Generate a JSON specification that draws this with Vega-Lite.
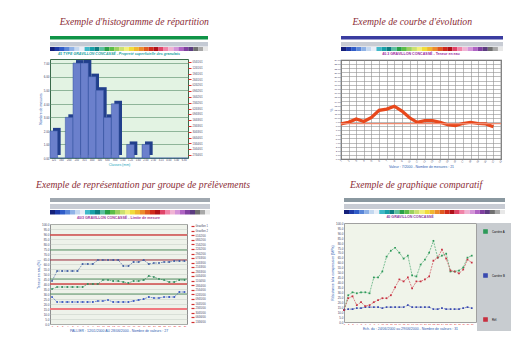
{
  "$schema": "https://vega.github.io/schema/vega-lite/v6.json",
  "background": "white",
  "padding": {"left": 35, "top": 17, "right": 0, "bottom": 0},
  "config": {
    "view": {"stroke": null},
    "axis": {"labelFont": "Liberation Sans", "labelFontSize": 3, "labelColor": "#404060", "titleFont": "Liberation Sans", "titleFontSize": 3.5, "titleColor": "#2a5ab0", "titleFontWeight": "normal", "ticks": false, "domain": false, "labelPadding": 1, "titlePadding": 1, "labelOverlap": false, "labelFlush": false},
    "legend": {"labelFont": "Liberation Sans"},
    "range": {"category": ["#15207a","#1e3aa8","#2f5cc8","#5a86d8","#8fb2e6","#c4d8f0","#e8eef8","#3fb8c8","#1aa0a8","#0c7c80","#5cc0a0","#28a048","#5cbc48","#9cd060","#cce070","#f2f07a","#f0dc3c","#f0b830","#ec8c2c","#e05a20","#d02a1c","#b01018","#e04468","#f084a8","#f0b4d4","#d494d8","#b064c4","#8040a0","#5c3c80","#707070","#a8a8a8","#e8e8e8"]}
  },
  "datasets": {
    "palette": [{"s":"c00"},{"s":"c01"},{"s":"c02"},{"s":"c03"},{"s":"c04"},{"s":"c05"},{"s":"c06"},{"s":"c07"},{"s":"c08"},{"s":"c09"},{"s":"c10"},{"s":"c11"},{"s":"c12"},{"s":"c13"},{"s":"c14"},{"s":"c15"},{"s":"c16"},{"s":"c17"},{"s":"c18"},{"s":"c19"},{"s":"c20"},{"s":"c21"},{"s":"c22"},{"s":"c23"},{"s":"c24"},{"s":"c25"},{"s":"c26"},{"s":"c27"},{"s":"c28"},{"s":"c29"},{"s":"c30"},{"s":"c31"}],
    "one": [{"a": 1}]
  },
  "spacing": 10,
  "resolve": {"scale": {"color": "independent"}, "legend": {"color": "independent"}},
  "vconcat": [
    {
      "spacing": 119,
      "resolve": {"scale": {"color": "independent"}, "legend": {"color": "independent"}},
      "hconcat": [
        {
          "title": {"text": "Exemple d'histogramme de répartition", "font": "Liberation Serif", "fontSize": 9.7, "fontStyle": "italic", "fontWeight": "normal", "color": "#8b2c36", "offset": 8, "anchor": "start", "dx": 22},
          "spacing": 0,
          "vconcat": [
            {"width": 158, "height": 3.5, "data": {"name": "one"}, "mark": {"type": "point", "opacity": 0}, "view": {"fill": "#0f9447"}},
            {"width": 158, "height": 4.5, "data": {"name": "one"}, "mark": {"type": "point", "opacity": 0}, "view": {"fill": "#c4cad4"}},
            {"width": 158, "height": 4, "data": {"name": "palette"}, "mark": "rect", "encoding": {"x": {"field": "s", "type": "nominal", "axis": null, "scale": {"paddingInner": 0, "paddingOuter": 0}}, "fill": {"field": "s", "type": "nominal", "legend": null}}},
            {
              "width": 138, "height": 99,
              "title": {"text": "45 TYPE GRAVILLON CONCASSÉ - Propreté superficielle des granulats", "font": "Liberation Sans", "fontSize": 3.6, "fontStyle": "italic", "fontWeight": "bold", "color": "#1aa0a0", "offset": 3},
              "view": {"fill": "#e3f3e3", "stroke": "#3a6a4a", "strokeWidth": 1},
              "resolve": {"scale": {"y": "independent"}},
              "layer": [
                {
                  "data": {"values": [{"classe":"125","effectif":2},{"classe":"160","effectif":0},{"classe":"200","effectif":3},{"classe":"250","effectif":7},{"classe":"315","effectif":7},{"classe":"400","effectif":6},{"classe":"500","effectif":5},{"classe":"630","effectif":3},{"classe":"800","effectif":4},{"classe":"1.00","effectif":0},{"classe":"1.25","effectif":1},{"classe":"1.60","effectif":0},{"classe":"2.00","effectif":1},{"classe":"2.50","effectif":0},{"classe":"3.15","effectif":0},{"classe":"4.00","effectif":0},{"classe":"5.00","effectif":0},{"classe":"6.30","effectif":0}]},
                  "encoding": {
                    "x": {"field": "classe", "type": "ordinal", "sort": null, "scale": {"paddingInner": 0, "paddingOuter": 0}, "axis": {"labelAngle": 0, "labelFontSize": 2.6, "title": "Classes (mm)", "titleColor": "#20a8c0", "grid": false}},
                    "y": {"field": "effectif", "type": "quantitative", "scale": {"domain": [0, 7.3], "nice": false}, "axis": {"values": [0,1,2,3,4,5,6,7], "format": ".2f", "grid": true, "gridColor": "#6a9a78", "gridWidth": 0.7, "title": "Nombre de mesures"}}
                  },
                  "layer": [
                    {"mark": {"type": "bar", "color": "#223f8c", "xOffset": 3, "yOffset": -3}},
                    {"mark": {"type": "bar", "color": "#6b80cc", "stroke": "#32509e", "strokeWidth": 0.5}}
                  ]
                },
                {
                  "data": {"values": [{"l":"05/01/01"},{"l":"12/01/01"},{"l":"19/01/01"},{"l":"26/01/01"},{"l":"02/02/01"},{"l":"09/02/01"},{"l":"16/02/01"},{"l":"23/02/01"},{"l":"02/03/01"},{"l":"09/03/01"},{"l":"16/03/01"},{"l":"23/03/01"},{"l":"30/03/01"},{"l":"06/04/01"},{"l":"13/04/01"},{"l":"20/04/01"},{"l":"27/04/01"}]},
                  "mark": {"type": "point", "opacity": 0},
                  "encoding": {"y": {"field": "l", "type": "ordinal", "sort": null, "axis": {"orient": "right", "ticks": true, "tickColor": "#e03030", "tickSize": 3, "tickWidth": 1, "labelFontSize": 2.6, "title": null, "labelPadding": 1, "grid": false}}}
                }
              ]
            }
          ]
        },
        {
          "title": {"text": "Exemple de courbe d'évolution", "font": "Liberation Serif", "fontSize": 9.7, "fontStyle": "italic", "fontWeight": "normal", "color": "#8b2c36", "offset": 8, "anchor": "start", "dx": 24},
          "spacing": 0,
          "vconcat": [
            {"width": 162, "height": 3.5, "data": {"name": "one"}, "mark": {"type": "point", "opacity": 0}, "view": {"fill": "#3a3ca0"}},
            {"width": 162, "height": 4.5, "data": {"name": "one"}, "mark": {"type": "point", "opacity": 0}, "view": {"fill": "#c8ccd4"}},
            {"width": 162, "height": 4, "data": {"name": "palette"}, "mark": "rect", "encoding": {"x": {"field": "s", "type": "nominal", "axis": null, "scale": {"paddingInner": 0, "paddingOuter": 0}}, "fill": {"field": "s", "type": "nominal", "legend": null}}},
            {
              "width": 160, "height": 99,
              "title": {"text": "40.3 GRAVILLON CONCASSÉ - Teneur en eau", "font": "Liberation Sans", "fontSize": 3.6, "fontWeight": "bold", "color": "#9a2aa0", "offset": 3},
              "view": {"fill": "#ffffff", "stroke": "#606060", "strokeWidth": 1.2},
              "encoding": {
                "y": {"field": "v", "type": "quantitative", "scale": {"domain": [0, 24], "nice": false}, "axis": {"values": [0,1,2,3,4,5,6,7,8,9,10,11,12,13,14,15,16,17,18,19,20,21,22,23,24], "format": ".2f", "grid": true, "gridColor": "#909090", "gridWidth": 0.6, "title": "%", "labelFontSize": 2.4}}
              },
              "layer": [
                {
                  "data": {"values": [{"n":1,"v":8.5},{"n":2,"v":8.9},{"n":3,"v":9.7},{"n":4,"v":9.1},{"n":5,"v":10.1},{"n":6,"v":11.8},{"n":7,"v":12.1},{"n":8,"v":12.8},{"n":9,"v":11.6},{"n":10,"v":10.0},{"n":11,"v":8.9},{"n":12,"v":9.3},{"n":13,"v":9.3},{"n":14,"v":8.9},{"n":15,"v":8.3},{"n":16,"v":8.1},{"n":17,"v":8.6},{"n":18,"v":8.9},{"n":19,"v":8.6},{"n":20,"v":8.5},{"n":21,"v":7.8}]},
                  "mark": {"type": "line", "color": "#e8481c", "strokeWidth": 3.2},
                  "encoding": {
                    "x": {"field": "n", "type": "quantitative", "scale": {"domain": [1, 22], "nice": false}, "axis": {"values": [1,2,3,4,5,6,7,8,9,10,11,12,13,14,15,16,17,18,19,20,21,22], "grid": true, "gridColor": "#909090", "gridWidth": 0.6, "labelAngle": -60, "labelFontSize": 2.6, "title": "Valeur : 7/2000 - Nombre de mesures : 21"}}
                  }
                },
                {
                  "data": {"values": [{"v": 8.6}]},
                  "mark": {"type": "rule", "color": "#f08a70", "strokeWidth": 1.2}
                }
              ]
            }
          ]
        }
      ]
    },
    {
      "spacing": 79,
      "resolve": {"scale": {"color": "independent"}, "legend": {"color": "independent"}},
      "hconcat": [
        {
          "title": {"text": "Exemple de représentation par groupe de prélèvements", "font": "Liberation Serif", "fontSize": 9.7, "fontStyle": "italic", "fontWeight": "normal", "color": "#8b2c36", "offset": 8, "anchor": "start"},
          "spacing": 0,
          "vconcat": [
            {"width": 160, "height": 4, "data": {"name": "one"}, "mark": {"type": "point", "opacity": 0}, "view": {"fill": "#a0a8b0"}},
            {"width": 160, "height": 5, "data": {"name": "one"}, "mark": {"type": "point", "opacity": 0}, "view": {"fill": "#c8ccd4"}},
            {"width": 160, "height": 4.5, "data": {"name": "palette"}, "mark": "rect", "encoding": {"x": {"field": "s", "type": "nominal", "axis": null, "scale": {"paddingInner": 0, "paddingOuter": 0}}, "fill": {"field": "s", "type": "nominal", "legend": null}}},
            {
              "width": 137, "height": 100,
              "title": {"text": "40/3 GRAVILLON CONCASSÉ - Limite de mesure", "font": "Liberation Sans", "fontSize": 3.6, "fontWeight": "bold", "color": "#a03a9a", "offset": 3},
              "view": {"fill": "#eef2ea", "stroke": "#909090", "strokeWidth": 1},
              "resolve": {"scale": {"y": "independent"}},
              "layer": [
                {
                  "encoding": {
                    "y": {"field": "v", "type": "quantitative", "scale": {"domain": [0, 100], "nice": false}, "axis": {"values": [0,5,10,15,20,25,30,35,40,45,50,55,60,65,70,75,80,85,90,95,100], "format": ".1f", "grid": true, "gridColor": "#c4ccc4", "gridWidth": 0.5, "title": "Teneur en eau (%)"}}
                  },
                  "layer": [
                    {"data": {"values": [{"v": 89}, {"v": 40}]}, "mark": {"type": "rule", "color": "#d04848", "strokeWidth": 1.3}},
                    {"data": {"values": [{"v": 15}]}, "mark": {"type": "rule", "color": "#f07a80", "strokeWidth": 1.8}},
                    {"data": {"values": [{"v": 64}]}, "mark": {"type": "rule", "color": "#a03040", "strokeWidth": 1}},
                    {"data": {"values": [{"v": 74}, {"v": 45}, {"v": 30}]}, "mark": {"type": "rule", "color": "#4a8a5a", "strokeWidth": 0.9}},
                    {
                      "data": {"values": [
                        {"n":1,"haut":43,"milieu":35,"bas":27},{"n":2,"haut":53,"milieu":37,"bas":22},{"n":3,"haut":53,"milieu":37,"bas":22},{"n":4,"haut":53,"milieu":37,"bas":22},{"n":5,"haut":53,"milieu":37,"bas":22},{"n":6,"haut":53,"milieu":37,"bas":22},{"n":7,"haut":60,"milieu":37,"bas":22},{"n":8,"haut":60,"milieu":40,"bas":22},{"n":9,"haut":60,"milieu":40,"bas":22},{"n":10,"haut":64,"milieu":40,"bas":23},{"n":11,"haut":64,"milieu":44,"bas":23},{"n":12,"haut":64,"milieu":44,"bas":24},{"n":13,"haut":64,"milieu":43,"bas":22},{"n":14,"haut":64,"milieu":43,"bas":22},{"n":15,"haut":58,"milieu":42,"bas":22},{"n":16,"haut":58,"milieu":41,"bas":22},{"n":17,"haut":62,"milieu":43,"bas":23},{"n":18,"haut":62,"milieu":43,"bas":24},{"n":19,"haut":64,"milieu":44,"bas":25},{"n":20,"haut":60,"milieu":48,"bas":27},{"n":21,"haut":61,"milieu":47,"bas":26},{"n":22,"haut":61,"milieu":45,"bas":26},{"n":23,"haut":62,"milieu":44,"bas":27},{"n":24,"haut":62,"milieu":42,"bas":27},{"n":25,"haut":63,"milieu":42,"bas":27},{"n":26,"haut":63,"milieu":44,"bas":32},{"n":27,"haut":63,"milieu":44,"bas":32}
                      ]},
                      "transform": [{"fold": ["haut", "milieu", "bas"], "as": ["serie", "v"]}],
                      "mark": {"type": "line", "strokeWidth": 0.6, "strokeDash": [2, 1], "point": {"shape": "square", "size": 3, "filled": true}},
                      "encoding": {
                        "x": {"field": "n", "type": "quantitative", "scale": {"domain": [0.6, 27.5], "nice": false}, "axis": {"values": [1,2,3,4,5,6,7,8,9,10,11,12,13,14,15,16,17,18,19,20,21,22,23,24,25,26,27], "labelColor": "#e03030", "labelFontSize": 2.4, "grid": false, "title": "PALLIER : 12/01/2000 AU 28/06/2000 - Nombre de valeurs : 27"}},
                        "color": {"field": "serie", "type": "nominal", "scale": {"domain": ["haut", "milieu", "bas"], "range": ["#3a5aa0", "#2e8a5a", "#3050c0"]}, "legend": null}
                      }
                    }
                  ]
                },
                {
                  "data": {"values": [{"l":"Gravillon 1"},{"l":"Gravillon 2"},{"l":"01/02/00"},{"l":"08/02/00"},{"l":"15/02/00"},{"l":"22/02/00"},{"l":"29/02/00"},{"l":"07/03/00"},{"l":"14/03/00"},{"l":"21/03/00"},{"l":"28/03/00"},{"l":"04/04/00"},{"l":"11/04/00"},{"l":"18/04/00"},{"l":"25/04/00"},{"l":"02/05/00"},{"l":"09/05/00"},{"l":"16/05/00"},{"l":"23/05/00"},{"l":"30/05/00"},{"l":"06/06/00"},{"l":"13/06/00"}]},
                  "mark": {"type": "point", "opacity": 0},
                  "encoding": {"y": {"field": "l", "type": "ordinal", "sort": null, "axis": {"orient": "right", "ticks": true, "tickColor": "#d03030", "tickSize": 3, "tickWidth": 1.2, "labelFontSize": 2.6, "title": null, "labelPadding": 1, "offset": 4, "grid": false}}}
                }
              ]
            }
          ]
        },
        {
          "title": {"text": "Exemple de graphique comparatif", "font": "Liberation Serif", "fontSize": 9.7, "fontStyle": "italic", "fontWeight": "normal", "color": "#8b2c36", "offset": 8, "anchor": "start", "dx": 20},
          "spacing": 0,
          "resolve": {"scale": {"color": "independent"}, "legend": {"color": "independent"}},
          "vconcat": [
            {"width": 161, "height": 4, "data": {"name": "one"}, "mark": {"type": "point", "opacity": 0}, "view": {"fill": "#8a98a0"}},
            {"width": 161, "height": 5, "data": {"name": "one"}, "mark": {"type": "point", "opacity": 0}, "view": {"fill": "#c8ccd4"}},
            {"width": 161, "height": 4, "data": {"name": "palette"}, "mark": "rect", "encoding": {"x": {"field": "s", "type": "nominal", "axis": null, "scale": {"paddingInner": 0, "paddingOuter": 0}}, "fill": {"field": "s", "type": "nominal", "legend": null}}},
            {
              "width": 132, "height": 99,
              "title": {"text": "40 GRAVILLON CONCASSÉ", "font": "Liberation Sans", "fontSize": 3.6, "fontWeight": "bold", "color": "#8a3aa0", "offset": 3},
              "view": {"fill": "#f0f4ea", "stroke": "#a0a0a0", "strokeWidth": 1},
              "data": {"values": [
                {"n":1,"vert":12,"rouge":12,"bleu":12},{"n":2,"vert":27,"rouge":24,"bleu":13},{"n":3,"vert":30,"rouge":26,"bleu":13},{"n":4,"vert":29,"rouge":17,"bleu":14},{"n":5,"vert":30,"rouge":20,"bleu":14},{"n":6,"vert":30,"rouge":16,"bleu":15},{"n":7,"vert":29,"rouge":17,"bleu":15},{"n":8,"vert":45,"rouge":20,"bleu":15},{"n":9,"vert":45,"rouge":22,"bleu":15},{"n":10,"vert":51,"rouge":24,"bleu":14},{"n":11,"vert":66,"rouge":24,"bleu":15},{"n":12,"vert":72,"rouge":27,"bleu":15},{"n":13,"vert":75,"rouge":35,"bleu":15},{"n":14,"vert":70,"rouge":43,"bleu":15},{"n":15,"vert":64,"rouge":41,"bleu":15},{"n":16,"vert":67,"rouge":45,"bleu":17},{"n":17,"vert":47,"rouge":34,"bleu":15},{"n":18,"vert":46,"rouge":41,"bleu":15},{"n":19,"vert":58,"rouge":41,"bleu":15},{"n":20,"vert":63,"rouge":43,"bleu":15},{"n":21,"vert":70,"rouge":46,"bleu":15},{"n":22,"vert":82,"rouge":62,"bleu":13},{"n":23,"vert":65,"rouge":65,"bleu":13},{"n":24,"vert":67,"rouge":73,"bleu":14},{"n":25,"vert":69,"rouge":64,"bleu":13},{"n":26,"vert":51,"rouge":52,"bleu":13},{"n":27,"vert":51,"rouge":51,"bleu":13},{"n":28,"vert":52,"rouge":49,"bleu":13},{"n":29,"vert":55,"rouge":53,"bleu":14},{"n":30,"vert":65,"rouge":63,"bleu":15},{"n":31,"vert":67,"rouge":60,"bleu":14}
              ]},
              "transform": [{"fold": ["vert", "bleu", "rouge"], "as": ["serie", "v"]}],
              "mark": {"type": "line", "strokeWidth": 0.6, "strokeDash": [2, 1], "point": {"shape": "square", "size": 3, "filled": true}},
              "encoding": {
                "x": {"field": "n", "type": "quantitative", "scale": {"domain": [1, 32], "nice": false}, "axis": {"values": [1,2,3,4,5,6,7,8,9,10,11,12,13,14,15,16,17,18,19,20,21,22,23,24,25,26,27,28,29,30,31], "labelColor": "#e03030", "labelFontSize": 2.4, "grid": false, "title": "Ech. du : 24/06/2000 au 29/06/2000 - Nombre de valeurs : 31"}},
                "y": {"field": "v", "type": "quantitative", "scale": {"domain": [0, 100], "nice": false}, "axis": {"values": [0,5,10,15,20,25,30,35,40,45,50,55,60,65,70,75,80,85,90,95,100], "format": ".1f", "grid": false, "title": "Résistance à la compression (MPa)"}},
                "color": {"field": "serie", "type": "nominal", "scale": {"domain": ["vert", "bleu", "rouge"], "range": ["#2e9a5a", "#3a4ab0", "#c83040"]}, "legend": {"orient": "right", "title": null, "symbolType": "square", "symbolSize": 10, "labelFontSize": 2.8, "labelLimit": 14, "rowPadding": 33, "padding": 6, "offset": 1, "fillColor": "#c8ccd0", "labelExpr": "datum.label == 'vert' ? 'Carrière A' : datum.label == 'bleu' ? 'Carrière B' : 'Réf.'"}}
              }
            }
          ]
        }
      ]
    }
  ]
}
